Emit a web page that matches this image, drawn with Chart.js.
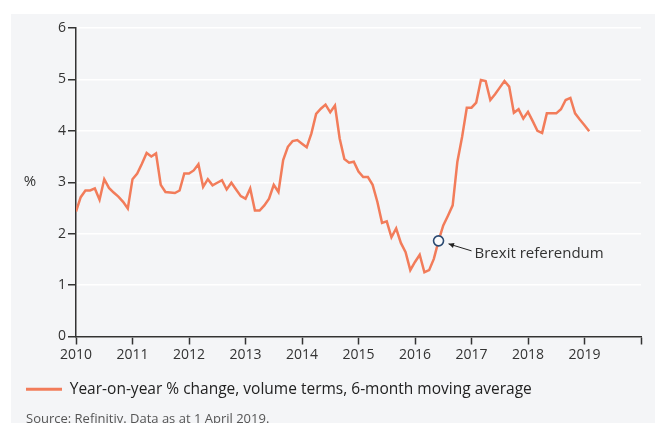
<!DOCTYPE html>
<html>
<head>
<meta charset="utf-8">
<script src="https://cdn.jsdelivr.net/npm/chart.js@4.4.1/dist/chart.umd.min.js"></script>
<style>
  html, body { margin: 0; padding: 0; background: #fff; }
  #wrap { position: relative; width: 655px; height: 423px; }
</style>
</head>
<body>
<div id="wrap"><canvas id="chart" width="655" height="423"></canvas></div>
<script>
// Monthly series, Jan 2010 to Feb 2019
const startYear = 2010;
const yearTicks = [2010, 2011, 2012, 2013, 2014, 2015, 2016, 2017, 2018, 2019];
const valueTicks = [0, 1, 2, 3, 4, 5, 6];
const seriesLabel = "Year-on-year % change, volume terms, 6-month moving average";
const salesGrowth = [
  2.43, 2.71, 2.84, 2.84, 2.88, 2.66, 3.06, 2.89, 2.80, 2.72, 2.62, 2.49,
  3.06, 3.17, 3.36, 3.57, 3.50, 3.56, 2.95, 2.81, 2.80, 2.79, 2.84, 3.17,
  3.17, 3.23, 3.35, 2.91, 3.06, 2.94, 2.99, 3.04, 2.86, 2.99, 2.86, 2.73,
  2.68, 2.88, 2.45, 2.45, 2.55, 2.68, 2.95, 2.81, 3.43, 3.69, 3.80, 3.82,
  3.75, 3.68, 3.95, 4.33, 4.43, 4.51, 4.36, 4.49, 3.85, 3.45, 3.38, 3.40,
  3.21, 3.10, 3.10, 2.95, 2.62, 2.21, 2.24, 1.93, 2.10, 1.82, 1.64, 1.29,
  1.45, 1.59, 1.25, 1.29, 1.51, 1.86, 2.16, 2.35, 2.55, 3.40, 3.88, 4.45,
  4.45, 4.55, 4.99, 4.97, 4.60, 4.71, 4.84, 4.97, 4.86, 4.35, 4.42, 4.24,
  4.37, 4.19, 4.00, 3.96, 4.34, 4.34, 4.34, 4.42, 4.60, 4.64, 4.34, 4.22,
  4.11, 3.99
];
const referendumIndex = 77; // June 2016
const referendumLabel = "Brexit referendum";
const sourceNote = "Source: Refinitiv. Data as at 1 April 2019.";

const FONT = "'Open Sans', sans-serif";
const INK = "#333";
const LINE = "#f27c5a";
const PANEL = "#f4f5f7";

const points = salesGrowth.map((v, i) => ({ x: startYear + i / 12, y: v }));

// grey panel behind everything
const backdrop = {
  id: "backdrop",
  beforeDraw(chart) {
    const ctx = chart.ctx;
    ctx.save();
    ctx.fillStyle = PANEL;
    ctx.fillRect(11, 14, chart.width - 11, chart.height - 14);
    ctx.restore();
  }
};

// unit label, referendum marker and source line
const extras = {
  id: "extras",
  afterDraw(chart) {
    const ctx = chart.ctx;
    const { x, y } = chart.scales;
    ctx.save();

    ctx.fillStyle = INK;
    ctx.font = "15px " + FONT;
    ctx.textBaseline = "middle";
    ctx.textAlign = "center";
    ctx.fillText("%", 30, 182);

    const p = points[referendumIndex];
    const cx = x.getPixelForValue(p.x);
    const cy = y.getPixelForValue(p.y);

    // arrow from label back to marker
    const tipX = cx + 10, tipY = cy + 3;
    const tailX = cx + 33, tailY = cy + 10;
    const ang = Math.atan2(tipY - tailY, tipX - tailX);
    ctx.strokeStyle = "#222";
    ctx.fillStyle = "#222";
    ctx.lineWidth = 1;
    ctx.beginPath();
    ctx.moveTo(tailX, tailY);
    ctx.lineTo(tipX, tipY);
    ctx.stroke();
    ctx.beginPath();
    ctx.moveTo(tipX, tipY);
    ctx.lineTo(tipX - 6 * Math.cos(ang - 0.45), tipY - 6 * Math.sin(ang - 0.45));
    ctx.lineTo(tipX - 6 * Math.cos(ang + 0.45), tipY - 6 * Math.sin(ang + 0.45));
    ctx.closePath();
    ctx.fill();

    ctx.beginPath();
    ctx.arc(cx, cy, 5, 0, Math.PI * 2);
    ctx.fillStyle = "#fafbfc";
    ctx.fill();
    ctx.lineWidth = 1.6;
    ctx.strokeStyle = "#2b4a72";
    ctx.stroke();

    ctx.fillStyle = INK;
    ctx.textAlign = "left";
    ctx.font = "15px " + FONT;
    ctx.fillText(referendumLabel, cx + 36, cy + 13);

    ctx.fillStyle = "#555";
    ctx.font = "13px " + FONT;
    ctx.fillText(sourceNote, 26, 419);
    ctx.restore();
  }
};

new Chart(document.getElementById("chart"), {
  type: "line",
  data: {
    datasets: [{
      label: seriesLabel,
      data: points,
      borderColor: LINE,
      backgroundColor: LINE,
      borderWidth: 2.5,
      pointRadius: 0,
      tension: 0,
      fill: false
    }]
  },
  options: {
    responsive: false,
    animation: false,
    devicePixelRatio: 1,
    layout: { padding: { left: 11, top: 28, right: 14, bottom: 16 } },
    plugins: {
      tooltip: { enabled: false },
      legend: {
        position: "bottom",
        align: "start",
        labels: {
          boxWidth: 36,
          boxHeight: 3,
          padding: 15,
          color: "#222",
          font: { family: FONT, size: 15.5 },
          generateLabels(chart) {
            return Chart.defaults.plugins.legend.labels.generateLabels(chart)
              .map(l => ({ ...l, lineWidth: 0 }));
          }
        }
      }
    },
    scales: {
      x: {
        type: "linear",
        min: 2010,
        max: 2020,
        afterBuildTicks(s) {
          s.ticks = yearTicks.concat([2020]).map(v => ({ value: v }));
        },
        ticks: {
          autoSkip: false,
          maxRotation: 0,
          padding: 2,
          color: INK,
          font: { family: FONT, size: 14 },
          callback: v => (yearTicks.includes(v) ? String(v) : "")
        },
        grid: { drawOnChartArea: false, tickColor: INK, tickLength: 8, tickWidth: 1.5 },
        border: { color: INK, width: 1.5 },
        afterFit(s) { s.height = 30; }
      },
      y: {
        min: 0,
        max: 6,
        afterBuildTicks(s) {
          s.ticks = valueTicks.map(v => ({ value: v }));
        },
        ticks: {
          padding: 2,
          color: INK,
          font: { family: FONT, size: 14 }
        },
        grid: { color: "#fff", lineWidth: 1.5, tickColor: INK, tickLength: 8, tickWidth: 1.5 },
        border: { color: INK, width: 1.5 },
        afterFit(s) { s.width = 65; }
      }
    }
  },
  plugins: [backdrop, extras]
});
</script>
</body>
</html>
